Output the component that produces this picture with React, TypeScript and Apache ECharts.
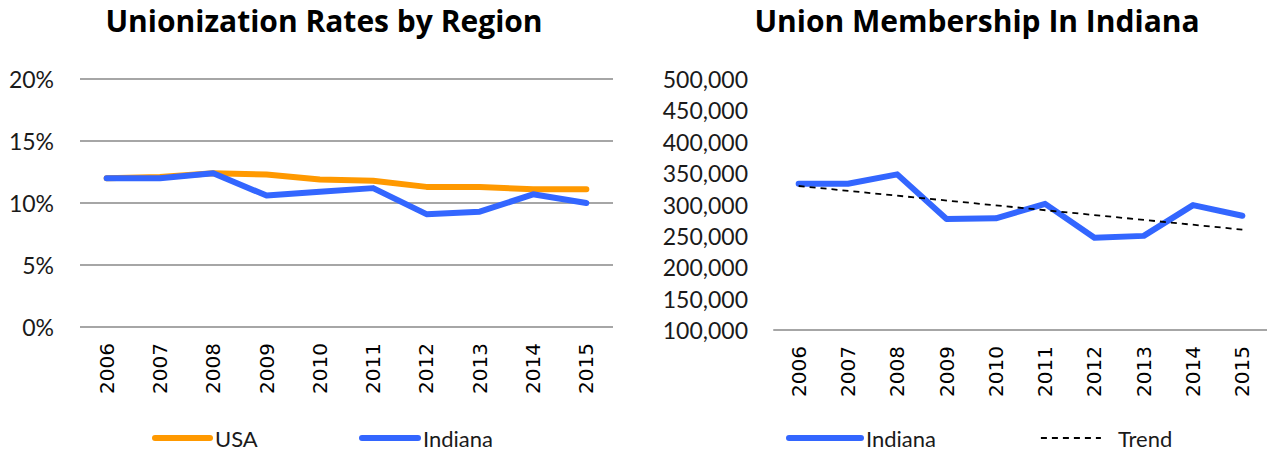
import React, { useEffect, useRef } from "react";
import * as echarts from "echarts";

const years = ["2006", "2007", "2008", "2009", "2010", "2011", "2012", "2013", "2014", "2015"];
const usaRate = [0.12, 0.121, 0.124, 0.123, 0.119, 0.118, 0.113, 0.113, 0.111, 0.111];
const indianaRate = [0.12, 0.12, 0.124, 0.106, 0.109, 0.112, 0.091, 0.093, 0.107, 0.1];
const indianaMembers = [333000, 333000, 348000, 277000, 278000, 301000, 247000, 250000, 299000, 282000];
const trendValues = [329500, null, null, null, null, null, null, null, null, 260000];
const percentTicks = [0, 0.05, 0.1, 0.15, 0.2];
const memberTicks = [100000, 150000, 200000, 250000, 300000, 350000, 400000, 450000, 500000];

const ORANGE = "#FF9900";
const BLUE = "#3366FF";
const FONT = "Lato";

export default function App() {
  const ref = useRef<HTMLDivElement>(null);
  useEffect(() => {
    if (!ref.current) return;
    const chart = echarts.init(ref.current, null, { renderer: "svg" });
    const lineBase = { width: 6, cap: "round", join: "round" };
    const yLabel = { fontFamily: FONT, fontSize: 23, color: "#1a1a1a", margin: 26 };
    const xLabel = { fontFamily: "DejaVu Sans", fontSize: 20, color: "#000", rotate: 90, margin: 16 };
    const legendText = { fontFamily: FONT, fontSize: 22, color: "#1a1a1a", lineHeight: 28 };
    const titleText = { fontFamily: "Open Sans", fontWeight: "bold", fontSize: 30, color: "#000" };
    const solidLegend = {
      top: 424,
      padding: 0,
      itemHeight: 14,
      textStyle: legendText,
      itemStyle: { opacity: 0 },
      lineStyle: { width: 6, cap: "round" },
    };
    chart.setOption({
      animation: false,
      backgroundColor: "#fff",
      title: [
        { text: "Unionization Rates by Region", left: 319, top: 0, textAlign: "center", textStyle: titleText },
        { text: "Union Membership In Indiana", left: 972, top: 0, textAlign: "center", textStyle: titleText },
      ],
      grid: [
        { left: 80, right: 654, top: 79, bottom: 124 },
        { left: 774, right: -5, top: 79, bottom: 121 },
      ],
      xAxis: [
        {
          gridIndex: 0,
          type: "category",
          data: years,
          axisLine: { show: false },
          axisTick: { show: false },
          axisLabel: xLabel,
        },
        {
          gridIndex: 1,
          type: "category",
          data: years,
          axisLine: { show: true, lineStyle: { color: "#a6a6a6", width: 2 } },
          axisTick: { show: false },
          axisLabel: xLabel,
        },
      ],
      yAxis: [
        {
          gridIndex: 0,
          type: "value",
          min: percentTicks[0],
          max: percentTicks[percentTicks.length - 1],
          interval: 0.05,
          axisLine: { show: false },
          axisTick: { show: false },
          splitLine: { show: true, lineStyle: { color: "#a6a6a6", width: 2 } },
          axisLabel: { ...yLabel, formatter: (v: number) => Math.round(v * 100) + "%" },
        },
        {
          gridIndex: 1,
          type: "value",
          min: memberTicks[0],
          max: memberTicks[memberTicks.length - 1],
          interval: 50000,
          axisLine: { show: false },
          axisTick: { show: false },
          splitLine: { show: false },
          axisLabel: { ...yLabel, formatter: (v: number) => v.toLocaleString("en-US") },
        },
      ],
      legend: [
        { ...solidLegend, data: ["USA"], left: 152, itemWidth: 55 },
        { ...solidLegend, data: ["Indiana"], left: 359, itemWidth: 56 },
        { ...solidLegend, data: ["Indiana"], left: 786, itemWidth: 72 },
        {
          data: ["Trend"],
          left: 1040,
          top: 424,
          padding: 0,
          itemWidth: 60,
          itemHeight: 14,
          itemStyle: { opacity: 0 },
          lineStyle: { width: 1.8, type: [6, 5] },
          textStyle: { ...legendText, padding: [0, 0, 0, 12] },
        },
      ],
      series: [
        {
          name: "USA",
          type: "line",
          xAxisIndex: 0,
          yAxisIndex: 0,
          data: usaRate,
          symbol: "none",
          color: ORANGE,
          lineStyle: { ...lineBase, color: ORANGE },
        },
        {
          name: "Indiana",
          type: "line",
          xAxisIndex: 0,
          yAxisIndex: 0,
          data: indianaRate,
          symbol: "none",
          color: BLUE,
          lineStyle: { ...lineBase, color: BLUE },
        },
        {
          name: "Indiana",
          type: "line",
          xAxisIndex: 1,
          yAxisIndex: 1,
          data: indianaMembers,
          symbol: "none",
          color: BLUE,
          lineStyle: { ...lineBase, color: BLUE },
        },
        {
          name: "Trend",
          type: "line",
          xAxisIndex: 1,
          yAxisIndex: 1,
          data: trendValues,
          connectNulls: true,
          symbol: "none",
          color: "#000",
          lineStyle: { width: 1.8, color: "#000", type: [6, 5] },
        },
      ],
    });
    return () => chart.dispose();
  }, []);
  return (
    <div
      ref={ref}
      style={{ position: "fixed", left: 0, top: 0, width: 1267, height: 451, background: "#fff" }}
    />
  );
}
